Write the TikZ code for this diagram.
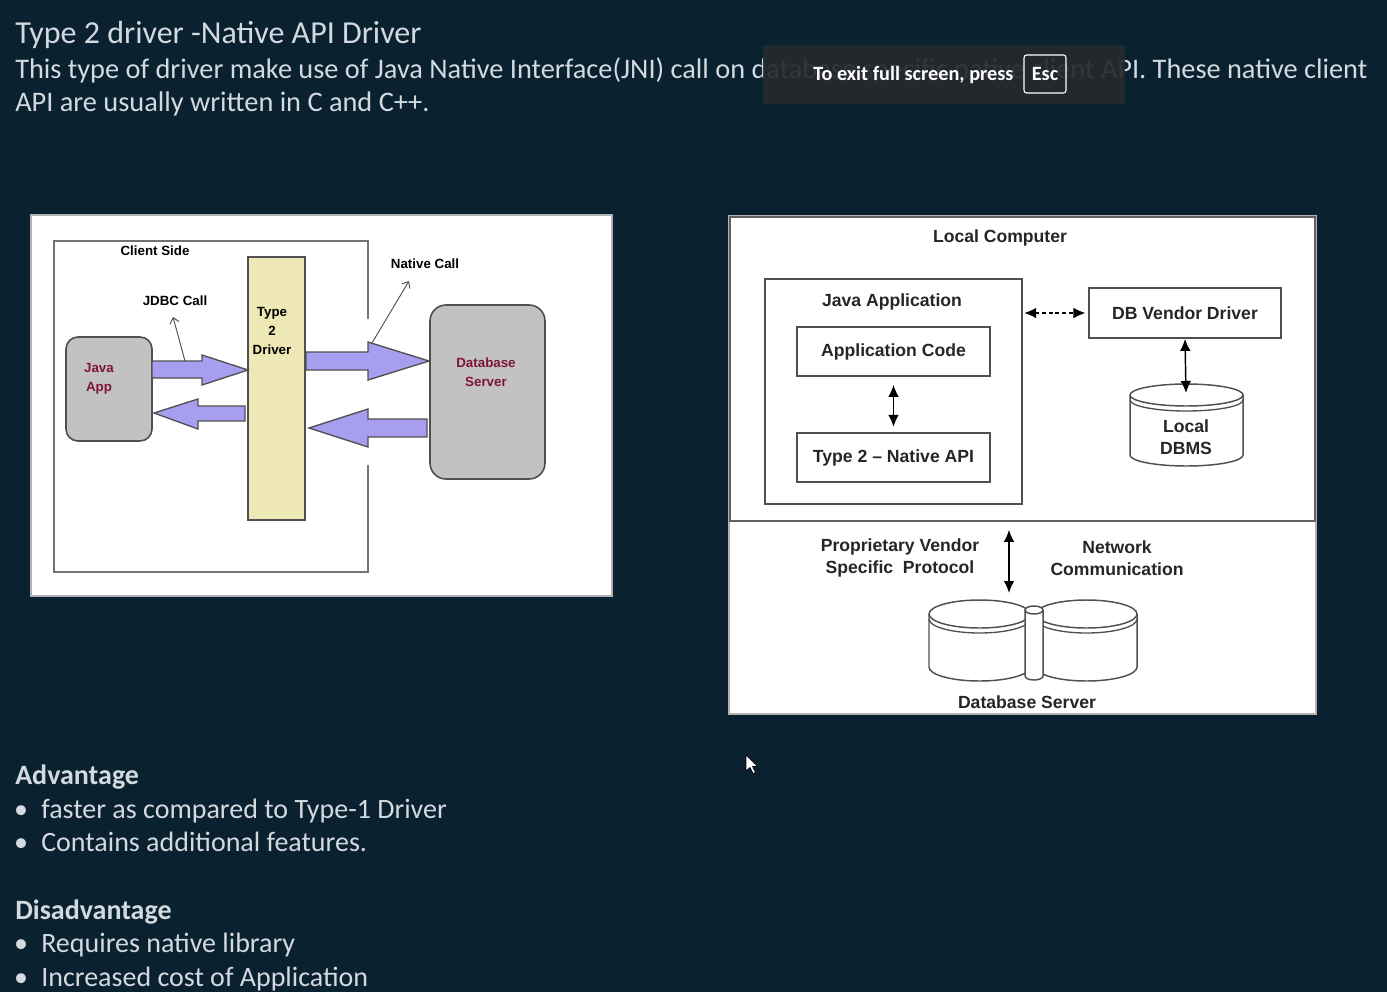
\documentclass[tikz,border=0pt]{standalone}
\usepackage{fontspec}
\setmainfont{Carlito}
\newfontfamily\diag{Liberation Sans}
\usetikzlibrary{arrows.meta}
\definecolor{bg}{HTML}{0A2230}
\definecolor{slidetext}{HTML}{D3DADF}
\definecolor{lav}{HTML}{A89EF0}
\definecolor{appred}{HTML}{7E1636}
\definecolor{drvfill}{HTML}{EEE7B6}
\definecolor{boxgray}{HTML}{C2C2C2}
\definecolor{edge}{HTML}{505050}
\definecolor{ovl}{HTML}{26292D}
\begin{document}
\begin{tikzpicture}[x=0.75pt,y=-0.75pt,
  slide/.style={text=slidetext, inner sep=0pt, anchor=base west, font=\fontsize{21}{25}\selectfont},
  slidehead/.style={slide, font=\fontsize{21}{25}\selectfont\bfseries},
  bul/.style={text=slidetext, inner sep=0pt, anchor=base, font=\fontsize{21}{25}\selectfont},
  lbl/.style={inner sep=0pt, align=center, text=black, font=\diag\bfseries\fontsize{10}{14.25}\selectfont},
  rlbl/.style={inner sep=0pt, align=center, text=black!85, font=\diag\bfseries\fontsize{13.2}{16.2}\selectfont},
  rbox/.style={draw=edge, line width=1.3pt, fill=white, rectangle, inner sep=0pt},
  blk/.style={fill=lav, draw=edge, line width=1pt, line join=miter},
  dbl/.style={{Latex[length=9pt,width=8pt]}-{Latex[length=9pt,width=8pt]}, line width=1.1pt, draw=black},
  callout/.style={-{Straight Barb[length=4pt,width=7pt]}, draw=edge, line width=0.7pt},
  cyl/.style={draw=edge, line width=1.1pt, fill=white}
]
\fill[bg] (0,0) rectangle (1387,992);
\useasboundingbox (0,0) rectangle (1387,992);

% ---------- slide text ----------
\node[slide, font=\fontsize{24}{28}\selectfont] (title) at (15,43) {Type 2 driver -Native API Driver};
\node[slide, font=\fontsize{21.25}{25}\selectfont] (line1) at (15,78) {This type of driver make use of Java Native Interface(JNI) call on database specific native client API. These native client};
\node[slide, font=\fontsize{21.25}{25}\selectfont] (line2) at (15,111) {API are usually written in C and C++.};

% ---------- full screen overlay ----------
\fill[ovl, opacity=0.92] (763,45) rectangle (1125,104);
\node[inner sep=0pt, anchor=base west, text=white, font=\bfseries\fontsize{15.2}{18}\selectfont] (exitmsg) at (813,80.5) {To exit full screen, press};
\node[draw=white, line width=0.8pt, rounded corners=2pt, minimum width=31.5pt, minimum height=28.5pt, inner sep=0pt, text=white, font=\bfseries\fontsize{15.2}{18}\selectfont] (esc) at (1045,74) {Esc};

% ---------- left diagram ----------
\fill[white, draw=gray!60, line width=1pt] (31,215) rectangle (612,596);
\draw[edge!80, line width=1.2pt] (368,319) -- (368,241) -- (54,241) -- (54,572) -- (368,572) -- (368,465);
\node[lbl] (clientside) at (155,251) {Client Side};

\node[draw=edge, line width=1.2pt, fill=boxgray, rounded corners=9pt, minimum width=64.5pt, minimum height=78pt, inner sep=0pt] (javaapp) at (109,389) {};
\node[lbl, text=appred] (javaapptxt) at (99,379) {Java\\App};

\node[draw=edge, line width=1.2pt, fill=drvfill, minimum width=42.75pt, minimum height=197.25pt, inner sep=0pt] (driver) at (276.5,388.5) {};
\node[lbl] (drivertxt) at (272,331) {Type\\2\\Driver};

\node[draw=edge, line width=1.2pt, fill=boxgray, rounded corners=12pt, minimum width=86.25pt, minimum height=130.5pt, inner sep=0pt] (dbserver) at (487.5,392) {};
\node[lbl, text=appred] (dbservertxt) at (486,372) {Database\\Server};

% block arrows
\draw[blk] (152,361) -- (202,361) -- (202,355) -- (248,370) -- (202,385) -- (202,378) -- (152,378) -- cycle;
\draw[blk] (245,406) -- (198,406) -- (198,399) -- (154,413) -- (198,429) -- (198,421) -- (245,421) -- cycle;
\draw[blk] (306,352) -- (368,352) -- (368,342) -- (429,361) -- (368,380) -- (368,370) -- (306,370) -- cycle;
\draw[blk] (427,419) -- (368,419) -- (368,409) -- (309,428) -- (368,447) -- (368,437) -- (427,437) -- cycle;

% callouts
\node[lbl] (jdbc) at (175,301) {JDBC Call};
\node[lbl] (native) at (425,264) {Native Call};
\coordinate (jdbcfoot) at (185,361);
\coordinate (jdbctip) at (173,317);
\coordinate (nativefoot) at (372,343);
\coordinate (nativetip) at (409,281);
\draw[callout] (jdbcfoot) -- (jdbctip);
\draw[callout] (nativefoot) -- (nativetip);

% ---------- right diagram ----------
\fill[white, draw=gray!60, line width=1pt] (729,216) rectangle (1316,714);
\node[draw=edge!90, line width=1.3pt, minimum width=438.75pt, minimum height=228pt, inner sep=0pt] (localcomp) at (1022.5,369) {};
\node[rlbl] (localcomptxt) at (1000,238) {Local Computer};

\node[rbox, minimum width=192.75pt, minimum height=168.75pt] (javaappl) at (893.5,391.5) {};
\node[rlbl] (javaappltxt) at (892,302) {Java Application};
\node[rbox, minimum width=144.75pt, minimum height=36.75pt, rlbl] (appcode) at (893.5,351.5) {Application Code};
\node[rbox, minimum width=144.75pt, minimum height=36.75pt, rlbl] (nativeapi) at (893.5,457.5) {Type 2 – Native API};
\node[rbox, minimum width=144pt, minimum height=37.5pt, rlbl] (vendor) at (1185,313) {DB Vendor Driver};

\draw[dbl, shorten <=6pt, shorten >=4pt] (appcode.south) -- (nativeapi.north);
\draw[dbl, densely dashed, shorten <=1pt, shorten >=2pt] (javaappl.east |- vendor.west) -- (vendor.west);

% local DBMS cylinder
\draw[cyl] (1130,395) -- (1130,455) arc[start angle=180, end angle=0, x radius=56.5, y radius=11] -- (1243,395);
\draw[cyl] (1186.5,395) ellipse[x radius=56.5, y radius=11];
\draw[edge, line width=1pt] (1130,400) arc[start angle=180, end angle=0, x radius=56.5, y radius=11];
\node[rlbl] (dbmstxt) at (1186,437) {Local\\DBMS};
\coordinate (dbmstop) at (1186,393);
\draw[dbl, shorten >=0pt] (vendor.south) -- (dbmstop);

% lower part
\node[rlbl] (proto) at (900,558) {Proprietary Vendor\\Specific~ Protocol};
\node[rlbl] (netcomm) at (1117,558) {Network\\Communication};
\coordinate (dbstop) at (1009,593);
\draw[dbl, shorten <=6pt] (localcomp.south -| dbstop) -- (dbstop);

% database server cylinders
\draw[cyl] (929,614) -- (929,667) arc[start angle=180, end angle=0, x radius=50.5, y radius=14] -- (1030,614);
\draw[cyl] (979.5,614) ellipse[x radius=50.5, y radius=14];
\draw[edge, line width=1pt] (929,619) arc[start angle=180, end angle=0, x radius=50.5, y radius=14];
\draw[cyl] (1036,614) -- (1036,667) arc[start angle=180, end angle=0, x radius=50.5, y radius=14] -- (1137,614);
\draw[cyl] (1086.5,614) ellipse[x radius=50.5, y radius=14];
\draw[edge, line width=1pt] (1036,619) arc[start angle=180, end angle=0, x radius=50.5, y radius=14];
\draw[cyl] (1025,610) -- (1025,676) arc[start angle=180, end angle=0, x radius=9, y radius=4] -- (1043,610);
\draw[cyl] (1034,610) ellipse[x radius=9, y radius=4];
\node[rlbl] (dbservertxt2) at (1027,702) {Database Server};

% ---------- advantages ----------
\node[slidehead] (adv) at (15,784) {Advantage};
\node[bul] (b1) at (21,818) {•};
\node[slide] (adv1) at (41,818) {faster as compared to Type-1 Driver};
\node[bul] (b2) at (21,851) {•};
\node[slide] (adv2) at (41,851) {Contains additional features.};
\node[slidehead] (dis) at (15,919) {Disadvantage};
\node[bul] (b3) at (21,952) {•};
\node[slide] (dis1) at (41,952) {Requires native library};
\node[bul] (b4) at (21,986) {•};
\node[slide] (dis2) at (41,986) {Increased cost of Application};

% mouse cursor
\draw[fill=white, draw=black, line width=0.5pt, line join=round] (746,755) -- (746,771) -- (750,767.5) -- (753,773.5) -- (755.5,772.5) -- (752.5,766.5) -- (757.5,766.5) -- cycle;
\end{tikzpicture}
\end{document}
